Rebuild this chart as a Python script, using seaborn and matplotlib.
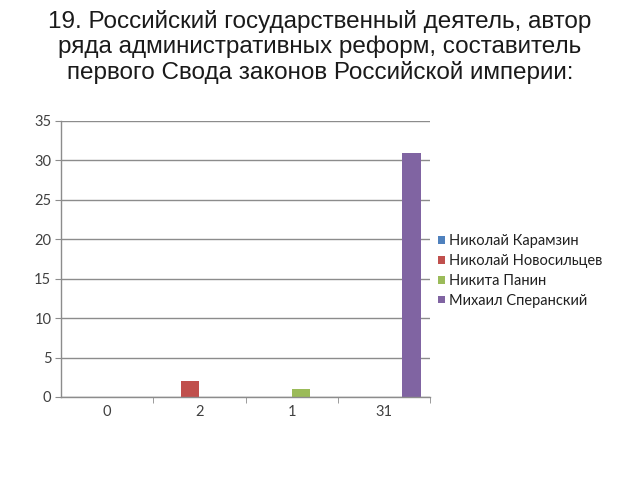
import matplotlib
matplotlib.use("Agg")
import matplotlib.pyplot as plt
import seaborn as sns
import pandas as pd
from matplotlib.ticker import FixedLocator
from matplotlib.patches import Patch

categories = ["0", "2", "1", "31"]
series = ["Николай Карамзин", "Николай Новосильцев", "Никита Панин", "Михаил Сперанский"]
karamzin = [0, 0, 0, 0]
novosiltsev = [0, 2, 0, 0]
panin = [0, 0, 1, 0]
speransky = [0, 0, 0, 31]
colors = ["#4F81BD", "#C0504D", "#9BBB59", "#8064A2"]
title = ("19. Российский государственный деятель, автор\n"
         "ряда административных реформ, составитель\n"
         "первого Свода законов Российской империи:")

rows = []
for name, vals in zip(series, [karamzin, novosiltsev, panin, speransky]):
    for c, v in zip(categories, vals):
        rows.append({"cat": c, "series": name, "value": v})
df = pd.DataFrame(rows)

sns.set_style("white")
plt.rcParams["font.family"] = ["Liberation Sans", "DejaVu Sans"]

fig = plt.figure(figsize=(6.4, 4.8), dpi=100)
ax = fig.add_axes([61/640, 1 - 397/480, (430-61)/640, (397-121)/480])

sns.barplot(data=df, x="cat", y="value", hue="series", order=categories,
            hue_order=series, palette=colors, width=0.8, ax=ax,
            legend=False, linewidth=0, saturation=1)

ax.set_xlim(-0.5, 3.5)
ax.set_ylim(0, 35)
ax.set_yticks(range(0, 36, 5))
ax.yaxis.grid(True, color="#8c8c8c", linewidth=1)
ax.set_axisbelow(True)
ax.set_xlabel("")
ax.set_ylabel("")
for s in ["top", "right"]:
    ax.spines[s].set_visible(False)
for s in ["left", "bottom"]:
    ax.spines[s].set_color("#8c8c8c")
    ax.spines[s].set_linewidth(1)
ax.tick_params(axis="y", direction="out", length=4, color="#8c8c8c",
               labelsize=10.5, labelcolor="#404040", left=True, pad=3)
ax.tick_params(axis="x", which="major", length=0, labelsize=10.5,
               labelcolor="#404040", pad=6)
ax.xaxis.set_minor_locator(FixedLocator([0.5, 1.5, 2.5, 3.5]))
ax.tick_params(axis="x", which="minor", direction="out", length=4,
               color="#8c8c8c", bottom=True)
for lbl in ax.get_xticklabels() + ax.get_yticklabels():
    lbl.set_family(["Lato", "DejaVu Sans"])

handles = [Patch(facecolor=c, edgecolor="none") for c in colors]
fig.legend(handles, series, loc="center left", bbox_to_anchor=(425/640, 1 - 271/480),
           frameon=False, prop={"family": ["Lato", "DejaVu Sans"], "size": 10.5},
           handlelength=0.45, handleheight=0.45, handletextpad=0.3,
           labelspacing=0.4, labelcolor="#202020")

fig.text(0.5, 1 - 47/480, title, ha="center", va="center", fontsize=17.5,
         linespacing=1.18, color="#1a1a1a")

fig.savefig("out.png", dpi=100)
